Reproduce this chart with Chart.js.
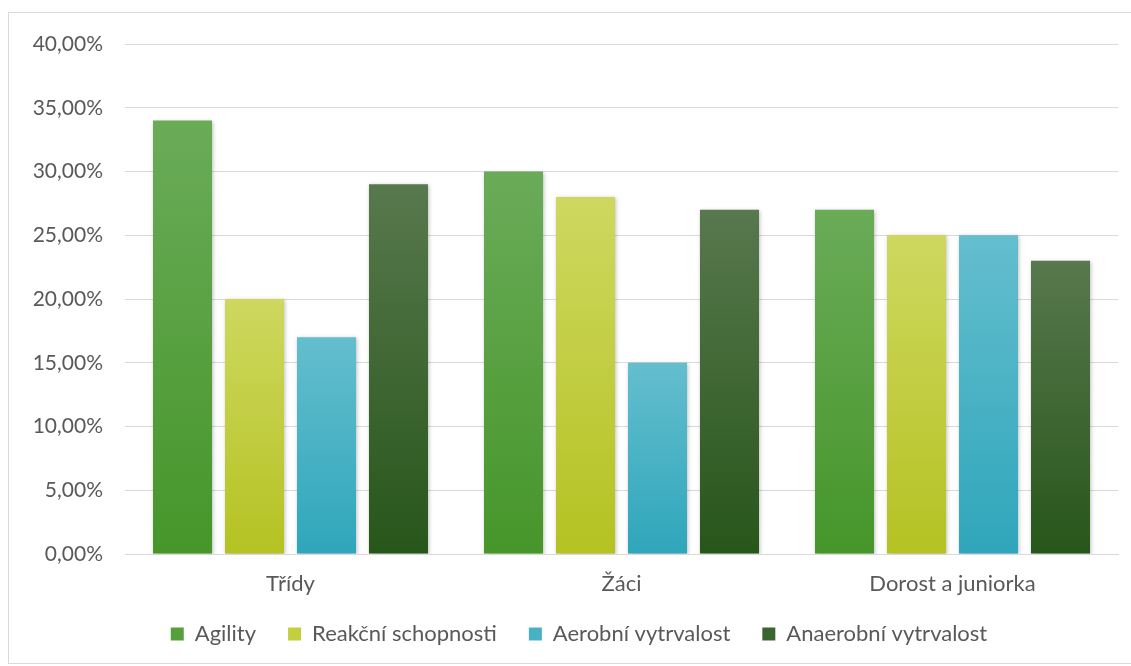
<!DOCTYPE html>
<html>
<head>
<meta charset="utf-8">
<script src="https://cdn.jsdelivr.net/npm/chart.js@4"></script>
<style>
  html, body { margin: 0; padding: 0; background: #fff; overflow: hidden; }
  #wrap { position: relative; width: 1131px; height: 666px; overflow: hidden; }
  #frame { position: absolute; left: 8px; top: 12px; width: 1144px; height: 652px; border: 1px solid #d9d9d9; box-sizing: border-box; }
  canvas { position: absolute; left: 0; top: 0; }
</style>
</head>
<body>
<div id="wrap">
  <div id="frame"></div>
  <canvas id="chart" width="1131" height="666"></canvas>
</div>
<script>
// values (percent)
const categories = ['Třídy', 'Žáci', 'Dorost a juniorka'];
const seriesNames = ['Agility', 'Reakční schopnosti', 'Aerobní vytrvalost', 'Anaerobní vytrvalost'];
const agility = [34, 30, 27];
const reakcni = [20, 28, 25];
const aerobni = [17, 15, 25];
const anaerobni = [29, 27, 23];

// gradient colours: top, bottom
const colours = [
    ['#6aab58', '#46962a'],
    ['#ced85f', '#b5c222'],
    ['#64bece', '#2fa6bb'],
    ['#58784d', '#27561a']
];
const legendColours = ['#55a03c', '#c4cf3f', '#48b2c4', '#3a6530'];

const font = 'Lato, "Open Sans", sans-serif';
const textColor = '#595959';

// each bar gets its own top->bottom gradient
function barFill(i) {
    return function (context) {
        const chart = context.chart;
        if (!chart.chartArea || context.type !== 'data') return colours[i][1];
        const yScale = chart.scales.y;
        const top = yScale.getPixelForValue(context.raw);
        const bottom = yScale.getPixelForValue(0);
        const g = chart.ctx.createLinearGradient(0, top, 0, bottom);
        g.addColorStop(0, colours[i][0]);
        g.addColorStop(1, colours[i][1]);
        return g;
    };
}

const barShadow = {
    id: 'barShadow',
    beforeDraw(chart) {
        // axis boxes are kept tight, don't clip their labels
        chart.scales.x._computeLabelArea = function () {};
        chart.scales.y._computeLabelArea = function () {};
    },
    beforeDatasetsDraw(chart) {
        const ctx = chart.ctx;
        ctx.save();
        ctx.shadowColor = 'rgba(0,0,0,0.25)';
        ctx.shadowBlur = 4;
        ctx.shadowOffsetX = 1;
        ctx.shadowOffsetY = 1;
    },
    afterDatasetsDraw(chart) {
        chart.ctx.restore();
    }
};

const allValues = [agility, reakcni, aerobni, anaerobni];

new Chart(document.getElementById('chart').getContext('2d'), {
    type: 'bar',
    data: {
        labels: categories,
        datasets: seriesNames.map((name, i) => ({
            label: name,
            data: allValues[i],
            backgroundColor: barFill(i),
            borderWidth: 0,
            barPercentage: 0.82,
            categoryPercentage: 0.87
        }))
    },
    plugins: [barShadow],
    options: {
        responsive: false,
        animation: false,
        layout: { padding: { top: 44, right: 13, left: 40, bottom: 11 } },
        scales: {
            x: {
                grid: { display: false, drawTicks: false },
                border: { color: '#d9d9d9', width: 1 },
                ticks: { color: textColor, font: { family: font, size: 22 }, padding: 17 },
                afterFit(scale) { scale.height = 37; }
            },
            y: {
                min: 0,
                max: 40,
                grid: { color: '#d9d9d9', lineWidth: 1, drawTicks: false },
                border: { display: false },
                ticks: {
                    stepSize: 5,
                    color: textColor,
                    font: { family: font, size: 21 },
                    padding: 22,
                    callback: v => v.toFixed(2).replace('.', ',') + '%'
                },
                afterFit(scale) { scale.width = 85; }
            }
        },
        plugins: {
            tooltip: { enabled: false },
            legend: {
                position: 'bottom',
                labels: {
                    color: textColor,
                    font: { family: font, size: 22 },
                    boxWidth: 13,
                    boxHeight: 13,
                    padding: 32,
                    generateLabels(chart) {
                        return chart.data.datasets.map((ds, i) => ({
                            text: ds.label,
                            fillStyle: legendColours[i],
                            strokeStyle: legendColours[i],
                            lineWidth: 0,
                            fontColor: textColor,
                            hidden: false,
                            datasetIndex: i
                        }));
                    }
                }
            }
        }
    }
});
</script>
</body>
</html>
